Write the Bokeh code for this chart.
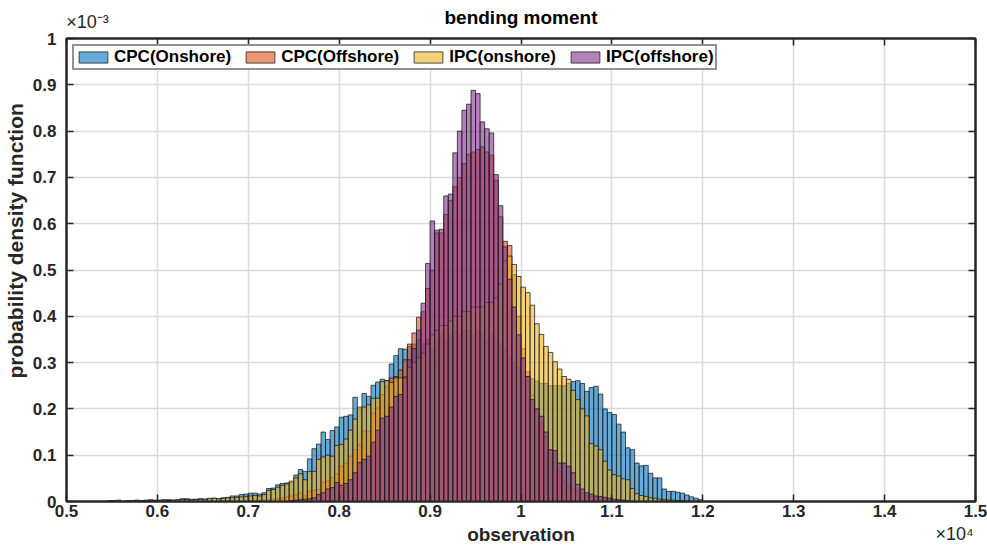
import numpy as np
from bokeh.plotting import figure
from bokeh.models import (Range1d, LinearAxis, FixedTicker, CustomJSTickFormatter,
                          Legend, LegendItem)
from bokeh.embed import file_html
from bokeh.resources import INLINE

# Histogram bins: 50-unit wide bins starting at 5400 (observation units)
BIN_START = 5400
BIN_WIDTH = 50

# probability density per bin, in units of 1e-3
cpc_onshore = [
    0, 0.002, 0.002, 0.003, 0, 0.002, 0.002, 0.003, 0.002, 0.003,
    0.004, 0.003, 0.003, 0.004, 0.004, 0.003, 0.004, 0.006, 0.006, 0.005,
    0.005, 0.006, 0.005, 0.006, 0.007, 0.006, 0.008, 0.009, 0.012, 0.012,
    0.015, 0.016, 0.018, 0.018, 0.016, 0.019, 0.028, 0.029, 0.036, 0.039,
    0.040, 0.041, 0.057, 0.069, 0.065, 0.092, 0.114, 0.124, 0.150, 0.134,
    0.153, 0.161, 0.182, 0.184, 0.187, 0.225, 0.200, 0.233, 0.227, 0.251,
    0.258, 0.264, 0.261, 0.297, 0.315, 0.330, 0.329, 0.335, 0.340, 0.350,
    0.340, 0.350, 0.330, 0.350, 0.360, 0.350, 0.360, 0.370, 0.360, 0.370,
    0.370, 0.360, 0.370, 0.360, 0.350, 0.360, 0.350, 0.340, 0.330, 0.310,
    0.300, 0.290, 0.280, 0.270, 0.265, 0.260, 0.255, 0.255, 0.250, 0.250,
    0.250, 0.250, 0.255, 0.259, 0.261, 0.255, 0.238, 0.246, 0.249, 0.232,
    0.200, 0.192, 0.188, 0.167, 0.150, 0.116, 0.112, 0.083, 0.077, 0.078,
    0.061, 0.051, 0.051, 0.027, 0.022, 0.022, 0.020, 0.018, 0.014, 0.010,
    0.007, 0.004,
]

cpc_offshore = [
    0, 0, 0, 0, 0, 0, 0, 0, 0, 0,
    0, 0, 0, 0, 0, 0, 0, 0, 0, 0,
    0, 0, 0, 0, 0, 0, 0, 0, 0, 0,
    0, 0, 0.002, 0.002, 0.003, 0.003, 0.004, 0.005, 0.006, 0.008,
    0.010, 0.012, 0.015, 0.019, 0.012, 0.022, 0.024, 0.026, 0.042, 0.044,
    0.051, 0.060, 0.076, 0.083, 0.098, 0.112, 0.123, 0.152, 0.152, 0.191,
    0.202, 0.231, 0.248, 0.267, 0.270, 0.284, 0.306, 0.340, 0.364, 0.398,
    0.410, 0.460, 0.500, 0.580, 0.580, 0.620, 0.650, 0.680, 0.700, 0.730,
    0.750, 0.755, 0.760, 0.766, 0.755, 0.748, 0.694, 0.615, 0.562, 0.553,
    0.490, 0.400, 0.330, 0.280, 0.230, 0.200, 0.170, 0.140, 0.110, 0.085,
    0.065, 0.045, 0.035, 0.028, 0.022, 0.018, 0.014, 0.011, 0.009, 0.007,
    0.006, 0.005, 0.004, 0.003, 0.003, 0.002, 0.002, 0, 0, 0,
    0, 0, 0, 0, 0, 0, 0, 0, 0, 0,
    0, 0,
]

ipc_onshore = [
    0, 0, 0, 0, 0, 0, 0, 0, 0.002, 0,
    0.002, 0.002, 0.002, 0.003, 0.002, 0.003, 0.003, 0.004, 0.004, 0.003,
    0.004, 0.005, 0.005, 0.007, 0.007, 0.006, 0.007, 0.008, 0.008, 0.009,
    0.010, 0.011, 0.012, 0.013, 0.012, 0.015, 0.024, 0.026, 0.031, 0.035,
    0.038, 0.044, 0.051, 0.060, 0.047, 0.065, 0.065, 0.091, 0.096, 0.100,
    0.098, 0.121, 0.123, 0.135, 0.154, 0.178, 0.204, 0.204, 0.209, 0.223,
    0.223, 0.259, 0.261, 0.257, 0.267, 0.267, 0.269, 0.290, 0.300, 0.310,
    0.320, 0.340, 0.360, 0.370, 0.380, 0.380, 0.390, 0.400, 0.400, 0.410,
    0.410, 0.420, 0.420, 0.420, 0.430, 0.430, 0.440, 0.470, 0.520, 0.530,
    0.512, 0.486, 0.463, 0.451, 0.424, 0.384, 0.361, 0.335, 0.322, 0.302,
    0.286, 0.270, 0.264, 0.240, 0.220, 0.200, 0.185, 0.125, 0.120, 0.112,
    0.087, 0.068, 0.058, 0.055, 0.049, 0.047, 0.028, 0.017, 0.013, 0.011,
    0.008, 0.007, 0.005, 0.004, 0.003, 0.003, 0.002, 0.002, 0, 0,
    0, 0,
]

ipc_offshore = [
    0, 0, 0, 0, 0, 0, 0, 0, 0, 0,
    0, 0, 0, 0, 0, 0, 0, 0, 0, 0,
    0, 0, 0, 0, 0, 0, 0, 0, 0, 0,
    0, 0, 0, 0, 0, 0, 0, 0, 0, 0,
    0, 0.002, 0.003, 0.004, 0.005, 0.006, 0.008, 0.015, 0.019, 0.027,
    0.030, 0.041, 0.035, 0.039, 0.047, 0.062, 0.084, 0.091, 0.098, 0.128,
    0.154, 0.180, 0.184, 0.204, 0.227, 0.231, 0.267, 0.306, 0.330, 0.370,
    0.428, 0.514, 0.606, 0.586, 0.588, 0.660, 0.664, 0.753, 0.800, 0.845,
    0.858, 0.888, 0.881, 0.820, 0.805, 0.796, 0.706, 0.639, 0.550, 0.480,
    0.420, 0.360, 0.310, 0.270, 0.220, 0.200, 0.184, 0.150, 0.112, 0.110,
    0.083, 0.083, 0.076, 0.062, 0.037, 0.027, 0.019, 0.016, 0.012, 0.011,
    0.009, 0.007, 0.005, 0.004, 0.003, 0.002, 0, 0, 0, 0,
    0, 0, 0, 0, 0, 0, 0, 0, 0, 0,
    0, 0,
]

series_names = ["CPC(Onshore)", "CPC(Offshore)", "IPC(onshore)", "IPC(offshore)"]
series_values = [cpc_onshore, cpc_offshore, ipc_onshore, ipc_offshore]
series_colors = ["#0072BD", "#D95319", "#EDB120", "#7E2F8E"]

x_ticks = [5000, 6000, 7000, 8000, 9000, 10000, 11000, 12000, 13000, 14000, 15000]
y_ticks = [0, 0.1, 0.2, 0.3, 0.4, 0.5, 0.6, 0.7, 0.8, 0.9, 1.0]

TITLE = "bending moment"
X_LABEL = "observation"
Y_LABEL = "probability density function"
Y_EXPONENT = "\u00d710\u207b\u00b3"   # x10^-3
X_EXPONENT = "\u00d710\u2074"         # x10^4

FONT = "Liberation Sans"
DARK = "#262626"

p = figure(width=987, height=547,
           x_range=Range1d(5000, 15000), y_range=Range1d(0, 1),
           output_backend="svg", toolbar_location=None, title_location=None,
           min_border_left=64, min_border_right=12,
           min_border_top=38, min_border_bottom=45)

p.outline_line_color = DARK
p.outline_line_width = 2
p.outline_line_alpha = 1.0
p.background_fill_color = "white"
p.border_fill_color = "white"

# grid
p.xgrid.ticker = FixedTicker(ticks=x_ticks)
p.ygrid.ticker = FixedTicker(ticks=y_ticks)
for g in (p.xgrid, p.ygrid):
    g.grid_line_color = "#d9d9d9"
    g.grid_line_width = 1.5

x_fmt = CustomJSTickFormatter(code="return String(Math.round(tick / 1000) / 10);")
y_fmt = CustomJSTickFormatter(code="return String(Math.round(tick * 10) / 10);")


def style_axis(ax, ticks, fmt, size="17px"):
    ax.ticker = FixedTicker(ticks=ticks)
    ax.formatter = fmt
    ax.axis_line_color = DARK
    ax.axis_line_width = 2
    ax.major_tick_line_color = DARK
    ax.major_tick_line_width = 1.5
    ax.major_tick_in = 7
    ax.major_tick_out = 0
    ax.minor_tick_line_color = None
    ax.major_label_text_font = FONT
    ax.major_label_text_font_size = size
    ax.major_label_text_font_style = "bold"
    ax.major_label_text_color = DARK
    ax.axis_label_text_font = FONT
    ax.axis_label_text_font_style = "bold"
    ax.axis_label_text_color = DARK


def tick_only_axis(ticks):
    # mirrored axis: inward tick marks, no tick labels
    ax = LinearAxis()
    style_axis(ax, ticks, CustomJSTickFormatter(code="return '';"), size="0px")
    ax.major_label_standoff = 0
    return ax


def exponent_axis(pos, text, standoff):
    # label-only axis carrying the power-of-ten multiplier
    ax = LinearAxis(ticker=FixedTicker(ticks=[pos]),
                    formatter=CustomJSTickFormatter(code="return '%s';" % text))
    ax.axis_line_color = None
    ax.major_tick_line_color = None
    ax.minor_tick_line_color = None
    ax.major_tick_in = 0
    ax.major_tick_out = 0
    ax.major_label_standoff = standoff
    ax.major_label_text_font = FONT
    ax.major_label_text_font_size = "18px"
    ax.major_label_text_font_style = "normal"
    ax.major_label_text_color = DARK
    return ax


# bottom axis: ticks, tick labels and axis label
xaxis = p.xaxis[0]
style_axis(xaxis, x_ticks, x_fmt)
xaxis.axis_label = X_LABEL
xaxis.axis_label_text_font_size = "19px"
xaxis.major_label_standoff = 3
xaxis.axis_label_standoff = 4
p.add_layout(exponent_axis(14770, X_EXPONENT, -24), "below")

# left axis; the label sits a little above the frame centre
yaxis = p.yaxis[0]
style_axis(yaxis, y_ticks, y_fmt)
yaxis.axis_label = "\u00a0" * 10 + Y_LABEL
yaxis.axis_label_text_font_size = "21px"
yaxis.major_label_standoff = 10
yaxis.axis_label_standoff = 3

# top axis: inward ticks, chart title as its label
top_axis = tick_only_axis(x_ticks)
top_axis.axis_label = TITLE
top_axis.axis_label_text_font_size = "19px"
top_axis.axis_label_text_color = "#000000"
top_axis.axis_label_standoff = 11
p.add_layout(top_axis, "above")
p.add_layout(exponent_axis(5230, Y_EXPONENT, -28), "above")

# right axis: inward ticks only
p.add_layout(tick_only_axis(y_ticks), "right")

# overlaid histograms
items = []
for name, vals, color in zip(series_names, series_values, series_colors):
    vals = np.asarray(vals, dtype=float)
    left = BIN_START + BIN_WIDTH * np.arange(len(vals))
    keep = vals > 0
    r = p.quad(left=left[keep], right=left[keep] + BIN_WIDTH,
               bottom=0, top=vals[keep],
               fill_color=color, fill_alpha=0.6,
               line_color="#1a1a1a", line_alpha=0.75, line_width=1)
    items.append(LegendItem(label=name, renderers=[r]))

legend = Legend(items=items, orientation="horizontal", location="top_left")
legend.label_text_font = FONT
legend.label_text_font_size = "17px"
legend.label_text_font_style = "bold"
legend.label_text_color = "#000000"
legend.glyph_width = 36
legend.glyph_height = 14
legend.label_height = 14
legend.label_standoff = 3
legend.spacing = 11
legend.padding = 1
legend.margin = 6
legend.border_line_color = DARK
legend.border_line_width = 2
legend.background_fill_alpha = 1.0
p.add_layout(legend)

open("out.html", "w").write(file_html(p, INLINE))
